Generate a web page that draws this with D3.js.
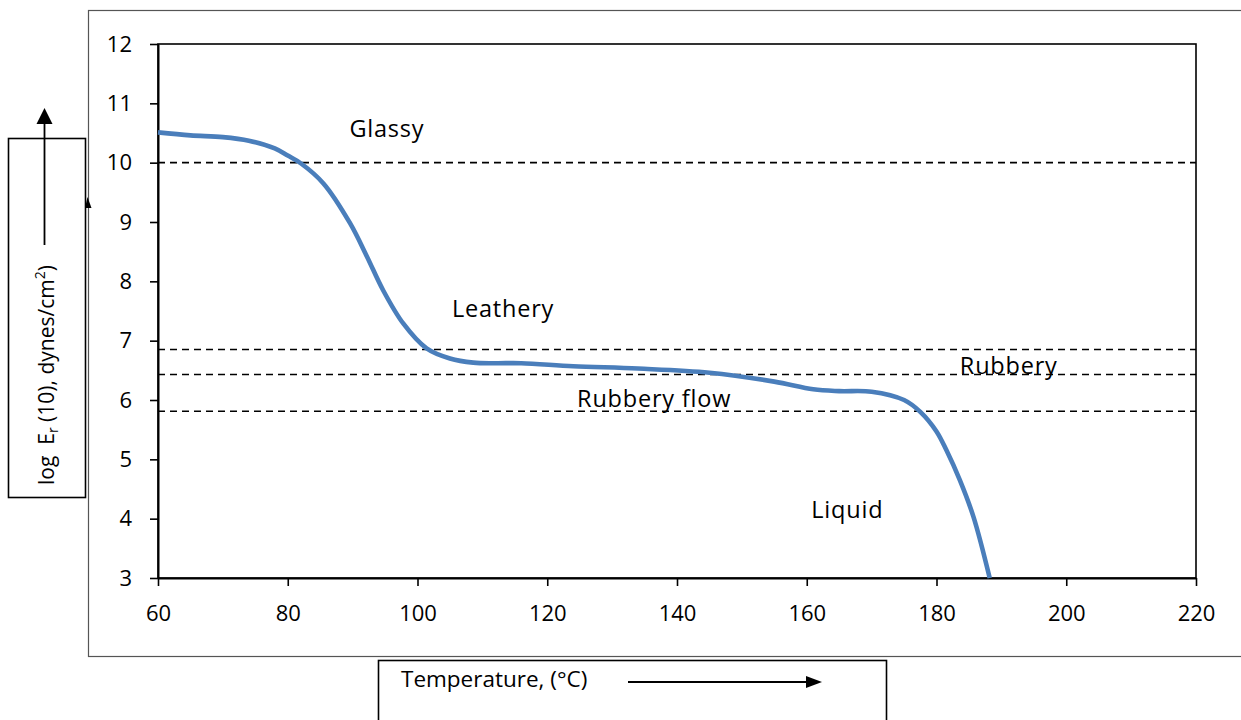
<!DOCTYPE html>
<html>
<head>
<meta charset="utf-8">
<script src="https://cdn.jsdelivr.net/npm/d3@7"></script>
<style>
  html, body { margin: 0; padding: 0; background: #fff; }
  svg { display: block; font-family: "Open Sans", "Noto Sans", sans-serif; }
</style>
</head>
<body>
<svg id="chart" width="1241" height="720"></svg>
<script>
// Temperature (°C) and log modulus readings for the viscoelastic curve
const temperature = [60, 65, 70, 74, 78, 80, 82, 85.5, 89.6, 92.2, 94.7, 97.8, 101.4, 105, 108.6, 112, 116, 124, 134, 145, 155, 161, 165, 170, 175, 177.5, 180, 181.5, 183.6, 185.7, 188.2];
const logModulus  = [10.51, 10.46, 10.43, 10.37, 10.24, 10.12, 9.99, 9.65, 8.98, 8.42, 7.85, 7.29, 6.87, 6.70, 6.63, 6.62, 6.62, 6.57, 6.53, 6.46, 6.31, 6.18, 6.15, 6.14, 6.0, 5.80, 5.47, 5.16, 4.65, 4.03, 3.0];

// Region boundaries (dashed reference lines)
const boundaries = [10, 6.85, 6.43, 5.81];

// Region names with their anchor (temperature, log modulus)
const regionNames = ["Glassy", "Leathery", "Rubbery", "Rubbery flow", "Liquid"];
const regionT     = [89.5, 105.3, 183.6, 124.6, 160.7];
const regionE     = [10.43, 7.40, 6.43, 5.89, 4.01];

// Axis ticks
const xTicks = [60, 80, 100, 120, 140, 160, 180, 200, 220];
const yTicks = [3, 4, 5, 6, 7, 8, 9, 10, 11, 12];

const svg = d3.select("#chart");

const x = d3.scaleLinear().domain([60, 220]).range([158, 1196]);
const y = d3.scaleLinear().domain([3, 12]).range([578, 44]);

// Outer chart frame
svg.append("rect")
  .attr("x", 88.5).attr("y", 10.5)
  .attr("width", 1200).attr("height", 646)
  .attr("fill", "#fff").attr("stroke", "#555").attr("stroke-width", 1.2);

// Plot area border
svg.append("rect")
  .attr("x", x(60)).attr("y", y(12))
  .attr("width", x(220) - x(60)).attr("height", y(3) - y(12))
  .attr("fill", "none").attr("stroke", "#000").attr("stroke-width", 1.6);

// Dashed boundaries
svg.append("g").selectAll("line")
  .data(boundaries)
  .join("line")
  .attr("x1", x(60)).attr("x2", x(220))
  .attr("y1", d => y(d)).attr("y2", d => y(d))
  .attr("stroke", "#000").attr("stroke-width", 1.6)
  .attr("stroke-dasharray", "7,5");

// Axes
const xAxis = svg.append("g")
  .attr("transform", `translate(0,${y(3)})`)
  .call(d3.axisBottom(x).tickValues(xTicks).tickSize(8).tickSizeOuter(0).tickPadding(19));
const yAxis = svg.append("g")
  .attr("transform", `translate(${x(60)},0)`)
  .call(d3.axisLeft(y).tickValues(yTicks).tickSize(8).tickSizeOuter(0).tickPadding(18));

[xAxis, yAxis].forEach(g => {
  g.select(".domain").attr("stroke", "#000").attr("stroke-width", 2);
  g.selectAll(".tick line").attr("stroke", "#000").attr("stroke-width", 1.6);
  g.selectAll(".tick text").attr("fill", "#000").attr("font-size", 22)
    .attr("font-family", "'Open Sans', sans-serif");
});

// Modulus–temperature curve
const line = d3.line()
  .x((d, i) => x(temperature[i]))
  .y(d => y(d))
  .curve(d3.curveCatmullRom.alpha(0.5));

svg.append("path")
  .datum(logModulus)
  .attr("d", line)
  .attr("fill", "none")
  .attr("stroke", "#4a7ebb")
  .attr("stroke-width", 4.6)
  .attr("stroke-linecap", "butt");

// Region names
svg.append("g").selectAll("text")
  .data(regionNames)
  .join("text")
  .attr("x", (d, i) => x(regionT[i]))
  .attr("y", (d, i) => y(regionE[i]))
  .attr("font-size", 23.5)
  .attr("letter-spacing", 0.8)
  .attr("fill", "#000")
  .text(d => d);

// Y axis title box with arrow
svg.append("rect")
  .attr("x", 8.5).attr("y", 138.5).attr("width", 77).attr("height", 359)
  .attr("fill", "#fff").attr("stroke", "#000").attr("stroke-width", 1.6);

svg.append("line")
  .attr("x1", 44.5).attr("x2", 44.5).attr("y1", 245).attr("y2", 122)
  .attr("stroke", "#000").attr("stroke-width", 1.8);
svg.append("path")
  .attr("d", "M44.5,108 L52.5,124 L36.5,124 Z").attr("fill", "#000");
svg.append("path")
  .attr("d", "M87.5,197 L91.5,208 L85,208 Z").attr("fill", "#000");

const yTitle = svg.append("text")
  .attr("transform", "translate(54,485) rotate(-90)")
  .attr("font-size", 21)
  .attr("fill", "#000");
yTitle.append("tspan").text("log\u00a0\u00a0E");
yTitle.append("tspan").attr("font-size", 14).attr("dy", 4).text("r");
yTitle.append("tspan").attr("dy", -4).text("\u00a0(10), dynes/cm");
yTitle.append("tspan").attr("font-size", 14).attr("dy", -9).text("2");
yTitle.append("tspan").attr("dy", 9).text(")");

// X axis title box with arrow
svg.append("rect")
  .attr("x", 378.5).attr("y", 660.5).attr("width", 508).attr("height", 80)
  .attr("fill", "#fff").attr("stroke", "#000").attr("stroke-width", 1.6);
svg.append("text")
  .attr("x", 401).attr("y", 687)
  .attr("font-size", 22.5).attr("fill", "#000")
  .text("Temperature, (°C)");
svg.append("line")
  .attr("x1", 628).attr("x2", 808).attr("y1", 682).attr("y2", 682)
  .attr("stroke", "#000").attr("stroke-width", 1.8);
svg.append("path")
  .attr("d", "M822,682 L806,676 L806,688 Z").attr("fill", "#000");
</script>
</body>
</html>
